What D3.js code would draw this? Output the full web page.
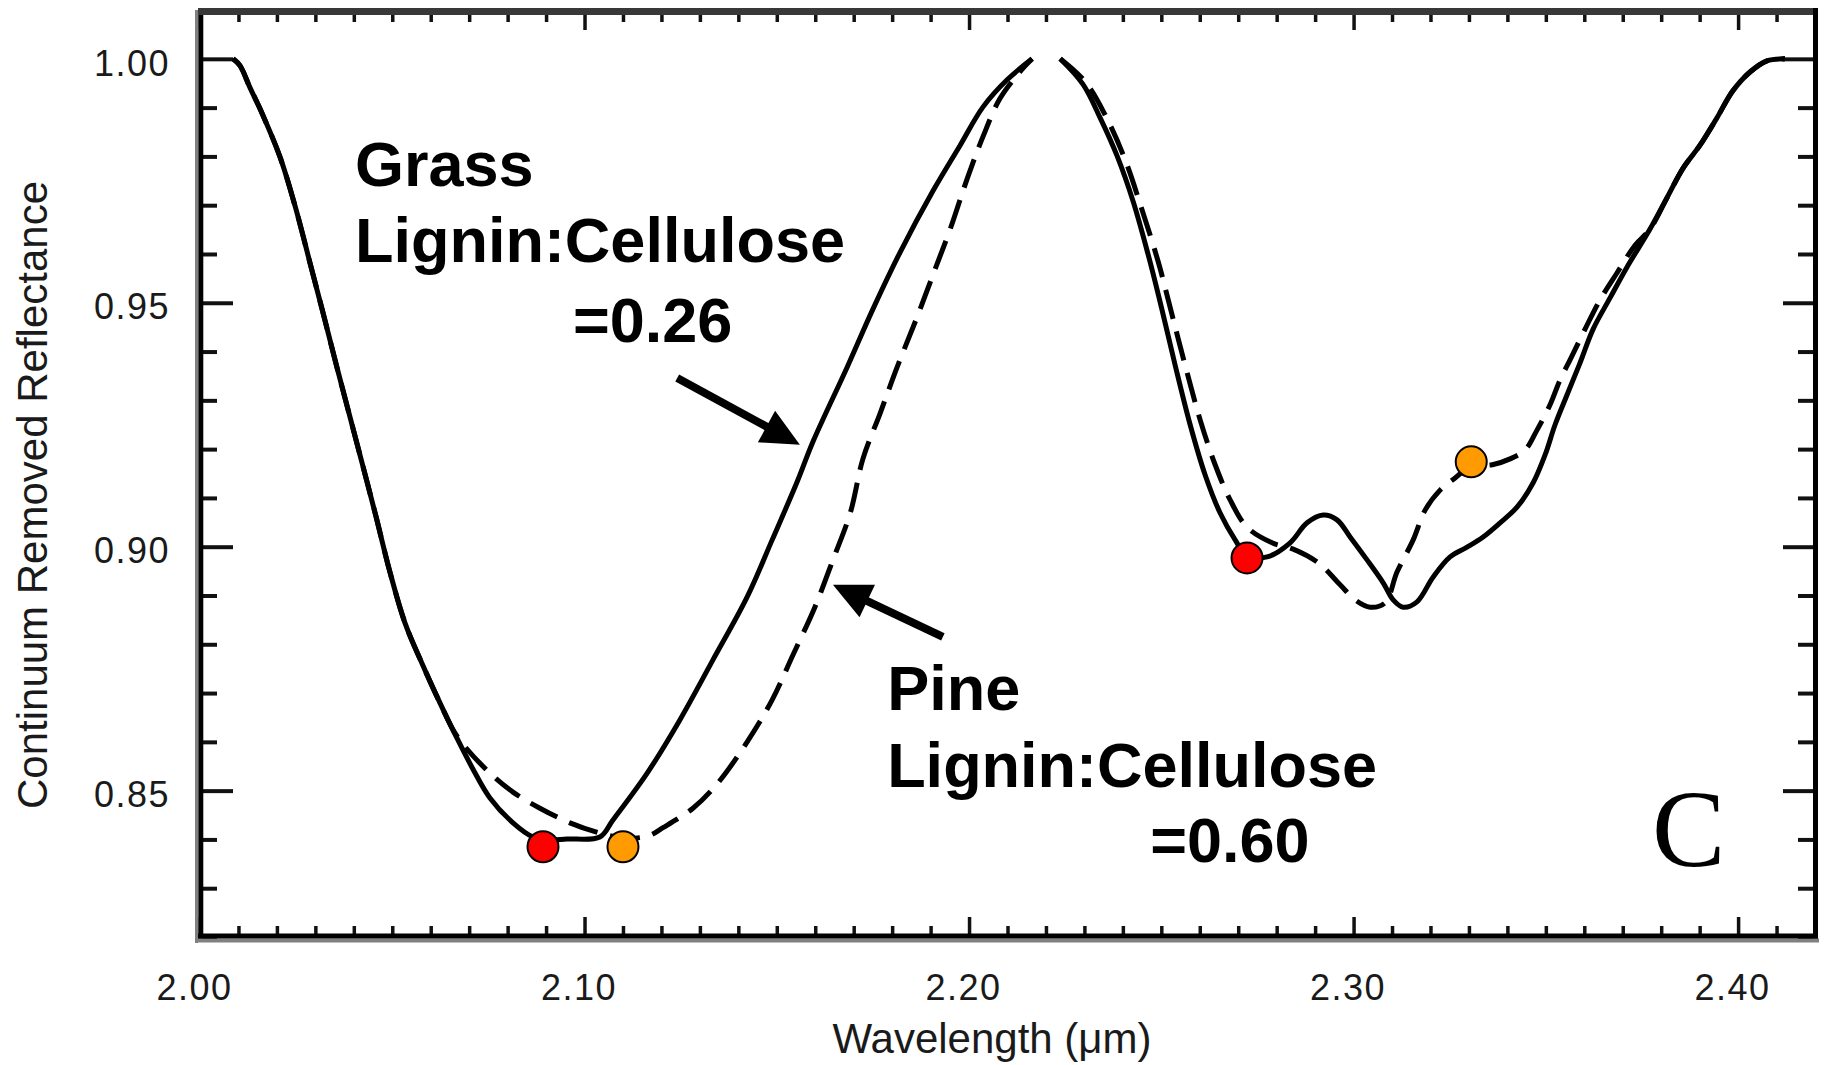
<!DOCTYPE html>
<html>
<head>
<meta charset="utf-8">
<script src="https://cdnjs.cloudflare.com/ajax/libs/d3/7.8.5/d3.min.js"></script>
<style>
  html, body { margin: 0; padding: 0; background: #fff; }
  svg { display: block; }
</style>
</head>
<body>
<div id="chart"></div>
<script>
// Grass spectrum (solid line), 2.1 um feature. [wavelength, continuum removed reflectance]
const grassBand1 = [
  [2.0086, 1.0000], [2.0104, 0.9986], [2.0130, 0.9941], [2.0161, 0.9889], [2.0208, 0.9799],
  [2.0247, 0.9699], [2.0286, 0.9582], [2.0322, 0.9473], [2.0356, 0.9368], [2.0390, 0.9266],
  [2.0424, 0.9164], [2.0458, 0.9061], [2.0494, 0.8948], [2.0533, 0.8844], [2.0580, 0.8756],
  [2.0624, 0.8680], [2.0668, 0.8608], [2.0710, 0.8544], [2.0754, 0.8485], [2.0814, 0.8434],
  [2.0866, 0.8405], [2.0910, 0.8399], [2.0954, 0.8401], [2.1040, 0.8405], [2.1074, 0.8440],
  [2.1163, 0.8536], [2.1248, 0.8645], [2.1334, 0.8768], [2.1423, 0.8897], [2.1488, 0.9014],
  [2.1553, 0.9133], [2.1594, 0.9215], [2.1683, 0.9368], [2.1750, 0.9487], [2.1821, 0.9604],
  [2.1906, 0.9729], [2.1977, 0.9823], [2.2036, 0.9901], [2.2099, 0.9957], [2.2164, 1.0000]
];

// Grass spectrum (solid line), 2.3 um feature.
const grassBand2 = [
  [2.2237, 1.0000], [2.2296, 0.9948], [2.2341, 0.9879], [2.2385, 0.9801], [2.2427, 0.9707],
  [2.2466, 0.9598], [2.2502, 0.9485], [2.2536, 0.9372], [2.2575, 0.9250], [2.2614, 0.9147],
  [2.2653, 0.9069], [2.2692, 0.9014], [2.2723, 0.8981], [2.2775, 0.8979], [2.2835, 0.9008],
  [2.2879, 0.9049], [2.2921, 0.9065], [2.2957, 0.9055], [2.2991, 0.9020], [2.3035, 0.8973],
  [2.3077, 0.8926], [2.3103, 0.8891], [2.3129, 0.8876], [2.3165, 0.8887], [2.3207, 0.8938],
  [2.3251, 0.8979], [2.3295, 0.8999], [2.3337, 0.9020], [2.3381, 0.9049], [2.3425, 0.9081],
  [2.3467, 0.9131], [2.3498, 0.9188], [2.3524, 0.9250], [2.3555, 0.9311], [2.3589, 0.9377],
  [2.3623, 0.9446], [2.3667, 0.9510], [2.3711, 0.9573], [2.3771, 0.9651], [2.3815, 0.9715],
  [2.3857, 0.9776], [2.3901, 0.9823], [2.3945, 0.9879], [2.3986, 0.9934], [2.4031, 0.9973],
  [2.4075, 0.9996], [2.4122, 1.0000]
];

// Pine spectrum (dashed line), 2.1 um feature.
const pineBand1 = [
  [2.0086, 1.0000], [2.0104, 0.9986], [2.0130, 0.9941], [2.0161, 0.9889], [2.0208, 0.9799],
  [2.0247, 0.9699], [2.0286, 0.9582], [2.0322, 0.9473], [2.0356, 0.9368], [2.0390, 0.9266],
  [2.0424, 0.9164], [2.0458, 0.9061], [2.0494, 0.8948], [2.0533, 0.8844], [2.0580, 0.8756],
  [2.0624, 0.8680], [2.0668, 0.8612], [2.0746, 0.8542], [2.0814, 0.8497], [2.0884, 0.8464],
  [2.0962, 0.8434], [2.1040, 0.8413], [2.1100, 0.8403], [2.1165, 0.8407], [2.1204, 0.8424],
  [2.1282, 0.8464], [2.1345, 0.8514], [2.1423, 0.8600], [2.1488, 0.8686], [2.1542, 0.8778],
  [2.1599, 0.8876], [2.1646, 0.8973], [2.1691, 0.9069], [2.1724, 0.9180], [2.1769, 0.9274],
  [2.1813, 0.9368], [2.1865, 0.9471], [2.1906, 0.9557], [2.1951, 0.9651], [2.1995, 0.9754],
  [2.2036, 0.9840], [2.2080, 0.9918], [2.2132, 0.9973], [2.2164, 1.0000]
];

// Pine spectrum (dashed line), 2.3 um feature.
const pineBand2 = [
  [2.2237, 1.0000], [2.2302, 0.9953], [2.2354, 0.9885], [2.2406, 0.9793], [2.2450, 0.9690],
  [2.2492, 0.9584], [2.2528, 0.9475], [2.2562, 0.9372], [2.2601, 0.9260], [2.2640, 0.9168],
  [2.2679, 0.9096], [2.2723, 0.9040], [2.2788, 0.9008], [2.2843, 0.8995], [2.2908, 0.8967],
  [2.2965, 0.8922], [2.3004, 0.8891], [2.3043, 0.8876], [2.3082, 0.8885], [2.3113, 0.8948],
  [2.3155, 0.9014], [2.3186, 0.9075], [2.3225, 0.9116], [2.3264, 0.9141], [2.3306, 0.9165],
  [2.3361, 0.9168], [2.3407, 0.9180], [2.3446, 0.9198], [2.3477, 0.9239], [2.3511, 0.9291],
  [2.3537, 0.9342], [2.3563, 0.9383], [2.3602, 0.9446], [2.3641, 0.9506], [2.3685, 0.9561],
  [2.3732, 0.9618], [2.3771, 0.9651], [2.3815, 0.9715], [2.3857, 0.9776], [2.3901, 0.9823],
  [2.3945, 0.9879], [2.3986, 0.9934], [2.4031, 0.9973], [2.4075, 0.9996], [2.4122, 1.0000]
];

// Band minima marked with dots.
const grassMinima = [[2.0892, 0.8385], [2.2723, 0.8977]];
const pineMinima = [[2.1100, 0.8385], [2.3306, 0.9174]];

// Axis ticks and labels.
const xTicks = [2.00, 2.10, 2.20, 2.30, 2.40];
const yTicks = [0.85, 0.90, 0.95, 1.00];
const xTitle = "Wavelength (\u03bcm)";
const yTitle = "Continuum Removed Reflectance";
const grassNote = ["Grass", "Lignin:Cellulose", "=0.26"];
const pineNote = ["Pine", "Lignin:Cellulose", "=0.60"];
const panelLetter = "C";

// Dimensions of the picture.
const w = 1827;
const h = 1065;
const font = "'Liberation Sans', Arial, Helvetica, sans-serif";

const svg = d3.select("#chart")
  .append("svg")
  .attr("width", w)
  .attr("height", h);

svg.append("rect").attr("width", w).attr("height", h).attr("fill", "#fff");

// Scales: plot box runs from the left frame to the right frame.
const x = d3.scaleLinear().domain([2.0, 2.42]).range([200, 1815]);
const y = d3.scaleLinear().domain([0.82, 1.0096]).range([937, 12]);

const isMajor = (list, v) => list.some(t => Math.abs(t - v) < 1e-6);
const xMinor = x.ticks(42).filter(v => !isMajor(xTicks, v));
const yMinor = y.ticks(19).filter(v => !isMajor(yTicks, v));

function styleAxis(g, width) {
  g.select(".domain").remove();
  g.selectAll("line").attr("stroke", "#111").attr("stroke-width", width);
  g.selectAll("text")
    .attr("font-family", font)
    .attr("font-size", 36)
    .attr("fill", "#1a1a1a")
    .attr("letter-spacing", 1.5);
}

//Bottom axis: minor and major ticks point inward.
svg.append("g")
  .attr("transform", "translate(0,934)")
  .call(d3.axisBottom(x).tickValues(xMinor).tickSize(-8).tickFormat(""))
  .call(g => styleAxis(g, 3.5));
svg.append("g")
  .attr("transform", "translate(0,934)")
  .call(d3.axisBottom(x).tickValues(xTicks).tickSize(-17).tickPadding(40).tickFormat(d3.format(".2f")))
  .call(g => styleAxis(g, 3.5))
  .call(g => g.selectAll("text").attr("dx", -6));

//Top axis, ticks only.
svg.append("g")
  .attr("transform", "translate(0,15)")
  .call(d3.axisTop(x).tickValues(xMinor).tickSize(-7).tickFormat(""))
  .call(g => styleAxis(g, 3.5));
svg.append("g")
  .attr("transform", "translate(0,15)")
  .call(d3.axisTop(x).tickValues(xTicks).tickSize(-15).tickFormat(""))
  .call(g => styleAxis(g, 3.5));

//Left axis.
svg.append("g")
  .attr("transform", "translate(203,0)")
  .call(d3.axisLeft(y).tickValues(yMinor).tickSize(-14).tickFormat(""))
  .call(g => styleAxis(g, 4));
svg.append("g")
  .attr("transform", "translate(203,0)")
  .call(d3.axisLeft(y).tickValues(yTicks).tickSize(-30).tickPadding(33).tickFormat(d3.format(".2f")))
  .call(g => styleAxis(g, 4))
  .call(g => g.selectAll("text").attr("dy", "0.45em"));

//Right axis, ticks only.
svg.append("g")
  .attr("transform", "translate(1813,0)")
  .call(d3.axisRight(y).tickValues(yMinor).tickSize(-15).tickFormat(""))
  .call(g => styleAxis(g, 4));
svg.append("g")
  .attr("transform", "translate(1813,0)")
  .call(d3.axisRight(y).tickValues(yTicks).tickSize(-30).tickFormat(""))
  .call(g => styleAxis(g, 4));

//Frame around the plot (black with a grey shadow like the scanned figure).
const frame = svg.append("g").attr("fill", "none");
frame.append("line").attr("x1", 196.5).attr("x2", 196.5).attr("y1", 10).attr("y2", 943)
  .attr("stroke", "#808080").attr("stroke-width", 3);
frame.append("line").attr("x1", 196).attr("x2", 1819).attr("y1", 940.5).attr("y2", 940.5)
  .attr("stroke", "#808080").attr("stroke-width", 4);
frame.append("line").attr("x1", 200.8).attr("x2", 200.8).attr("y1", 9).attr("y2", 938.5)
  .attr("stroke", "#000").attr("stroke-width", 5);
frame.append("line").attr("x1", 198).attr("x2", 1818).attr("y1", 936).attr("y2", 936)
  .attr("stroke", "#000").attr("stroke-width", 5);
frame.append("line").attr("x1", 198).attr("x2", 1818).attr("y1", 11.5).attr("y2", 11.5)
  .attr("stroke", "#383838").attr("stroke-width", 7);
frame.append("line").attr("x1", 1815.5).attr("x2", 1815.5).attr("y1", 8).attr("y2", 938.5)
  .attr("stroke", "#000").attr("stroke-width", 5);

//Spectra.
const line = d3.line()
  .x(d => x(d[0]))
  .y(d => y(d[1]))
  .curve(d3.curveCatmullRom.alpha(0.5));

[pineBand1, pineBand2].forEach(band => {
  svg.append("path")
    .datum(band)
    .attr("d", line)
    .attr("fill", "none")
    .attr("stroke", "#000")
    .attr("stroke-width", 5)
    .attr("stroke-dasharray", "30 13");
});

[grassBand1, grassBand2].forEach(band => {
  svg.append("path")
    .datum(band)
    .attr("d", line)
    .attr("fill", "none")
    .attr("stroke", "#000")
    .attr("stroke-width", 5)
    .attr("stroke-linejoin", "round");
});

//Minima dots.
svg.selectAll("circle.grass")
  .data(grassMinima)
  .enter()
  .append("circle")
  .attr("class", "grass")
  .attr("cx", d => x(d[0]))
  .attr("cy", d => y(d[1]))
  .attr("r", 15.5)
  .attr("fill", "#ff0000")
  .attr("stroke", "#000")
  .attr("stroke-width", 2);

svg.selectAll("circle.pine")
  .data(pineMinima)
  .enter()
  .append("circle")
  .attr("class", "pine")
  .attr("cx", d => x(d[0]))
  .attr("cy", d => y(d[1]))
  .attr("r", 15.5)
  .attr("fill", "#ff9a00")
  .attr("stroke", "#000")
  .attr("stroke-width", 2);

//Arrows pointing at the curves. from/to in data units.
function arrow(from, to) {
  const x0 = x(from[0]), y0 = y(from[1]);
  const x1 = x(to[0]), y1 = y(to[1]);
  const len = Math.hypot(x1 - x0, y1 - y0);
  const ux = (x1 - x0) / len, uy = (y1 - y0) / len;
  const headL = 38, headW = 18;
  const bx = x1 - ux * headL, by = y1 - uy * headL;
  svg.append("line")
    .attr("x1", x0).attr("y1", y0)
    .attr("x2", bx + ux * 4).attr("y2", by + uy * 4)
    .attr("stroke", "#000")
    .attr("stroke-width", 8);
  svg.append("path")
    .attr("d", "M" + x1 + "," + y1 +
      "L" + (bx - uy * headW) + "," + (by + ux * headW) +
      "L" + (bx + uy * headW) + "," + (by - ux * headW) + "Z")
    .attr("fill", "#000");
}

arrow([2.1241, 0.9346], [2.1560, 0.9209]);
arrow([2.1932, 0.8815], [2.1646, 0.8922]);

//Annotation text.
const notes = svg.append("g")
  .attr("font-family", font)
  .attr("font-weight", "bold")
  .attr("font-size", 63)
  .attr("fill", "#000");

notes.append("text").attr("x", x(2.0403)).attr("y", y(0.9739)).text(grassNote[0]);
notes.append("text").attr("x", x(2.0403)).attr("y", y(0.9584)).text(grassNote[1]);
notes.append("text").attr("x", x(2.0970)).attr("y", y(0.9420)).text(grassNote[2]);

notes.append("text").attr("x", x(2.1787)).attr("y", y(0.8665)).text(pineNote[0]);
notes.append("text").attr("x", x(2.1787)).attr("y", y(0.8507)).text(pineNote[1]);
notes.append("text").attr("x", x(2.2471)).attr("y", y(0.8354)).text(pineNote[2]);

svg.append("text")
  .attr("x", x(2.3776))
  .attr("y", y(0.8346))
  .attr("font-family", "'Liberation Serif', 'Times New Roman', serif")
  .attr("font-size", 110)
  .attr("fill", "#000")
  .text(panelLetter);

//Axis titles.
svg.append("text")
  .attr("x", 992)
  .attr("y", 1053)
  .attr("text-anchor", "middle")
  .attr("font-family", font)
  .attr("font-size", 42)
  .attr("fill", "#1a1a1a")
  .text(xTitle);

svg.append("text")
  .attr("transform", "translate(47,495) rotate(-90)")
  .attr("text-anchor", "middle")
  .attr("font-family", font)
  .attr("font-size", 42)
  .attr("fill", "#1a1a1a")
  .text(yTitle);
</script>
</body>
</html>
